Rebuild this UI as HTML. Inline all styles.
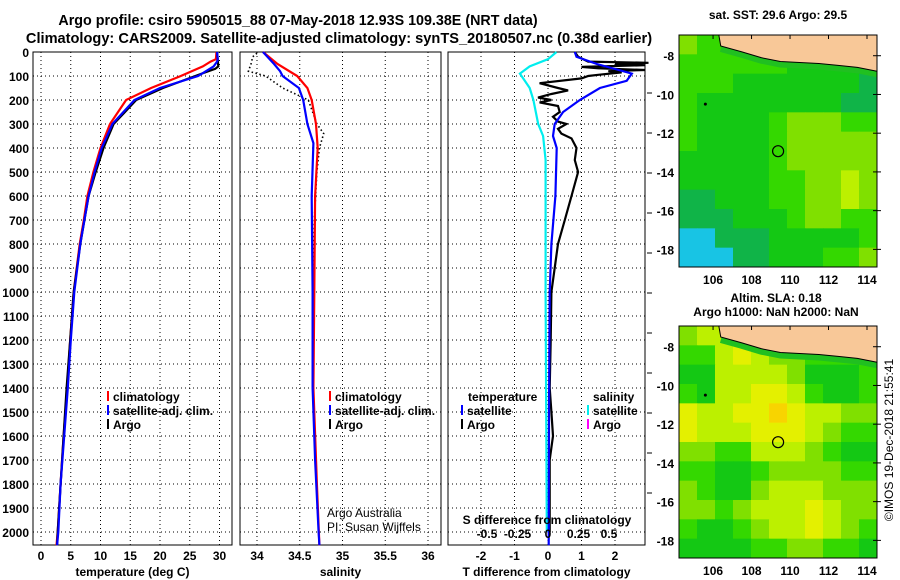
<!DOCTYPE html>
<html><head><meta charset="utf-8">
<style>
body{margin:0;background:#fff;}
svg{display:block;font-family:"Liberation Sans",Arial,sans-serif;font-weight:bold;}
</style></head>
<body>
<svg id="c" width="900" height="580" viewBox="0 0 900 580" xmlns="http://www.w3.org/2000/svg">
<text x="298" y="25" font-size="14.3" text-anchor="middle">Argo profile: csiro 5905015_88 07-May-2018 12.93S 109.38E (NRT data)</text>
<text x="339" y="43" font-size="14.6" text-anchor="middle">Climatology: CARS2009. Satellite-adjusted climatology: synTS_20180507.nc (0.38d earlier)</text>
<text x="778" y="19" font-size="12" text-anchor="middle">sat. SST: 29.6 Argo: 29.5</text>
<text x="776" y="302" font-size="12" text-anchor="middle">Altim. SLA: 0.18</text>
<text x="776" y="316" font-size="12" text-anchor="middle">Argo h1000: NaN h2000: NaN</text>
<text transform="translate(893,440) rotate(-90)" font-size="12" font-weight="normal" text-anchor="middle">©IMOS 19-Dec-2018 21:55:41</text>
</svg>
<script>
// ---- data ----
const depthTicks=[0,100,200,300,400,500,600,700,800,900,1000,1100,1200,1300,1400,1500,1600,1700,1800,1900,2000];
const tempTicks=[0,5,10,15,20,25,30];
const salTicks=[34,34.5,35,35.5,36];
const tdiffTicks=[-2,-1,0,1,2];
const sdiffTicks=[-0.5,-0.25,0,0.25,0.5];
const climTDepth=[0,30,40,60,100,150,200,300,400,500,600,700,800,900,1000,1200,1400,1600,1800,2000,2055];
const climT=[29.5,29.4,28.5,27.2,23.5,18.5,14.3,11.6,10,8.8,7.8,7.2,6.5,6,5.5,4.9,4.4,3.8,3.3,2.8,2.6];
const satT=[29.6,29.7,29.6,29.0,26.4,20,15.7,12,10.2,9,8,7.3,6.6,6.1,5.6,5,4.5,3.9,3.3,2.9,2.7];
const argoTDepth=[0,60,70,90,150,200,300,400,500,600,700,800,1000,1200,1400,1600,1800,2000,2055];
const argoT=[29.6,29.8,29.3,27,20.5,16,12.2,10.5,9.2,8,7.3,6.6,5.5,4.9,4.3,3.8,3.3,2.8,2.7];
const climSDepth=[0,50,100,150,200,300,400,600,1000,1400,1800,2055];
const climS=[34.07,34.24,34.47,34.59,34.64,34.69,34.71,34.68,34.67,34.66,34.70,34.73];
const satSDepth=[0,50,80,100,150,200,300,380,600,1000,1400,1700,2000,2055];
const satS=[34.07,34.20,34.27,34.30,34.49,34.54,34.59,34.66,34.64,34.65,34.65,34.68,34.72,34.73];
const argoSDepth=[5,20,50,80,100,150,200,300,340,400,500,700,1000,1500,2000];
const argoS=[34.0,33.95,33.93,33.9,34.1,34.3,34.6,34.7,34.78,34.73,34.7,34.67,34.65,34.66,34.72];
const satTdDepth=[0,20,50,90,120,150,200,250,300,350,400,600,800,1000,1500,2055];
const satTd=[0.8,0.85,1.46,2.5,2.35,1.55,0.95,0.45,0.2,0.15,0.26,0.22,0.1,0.05,0.03,0.02];
const argoTdDepth=[0,20,40,45,50,55,62,68,75,80,85,95,100,110,130,150,160,175,190,200,210,225,250,270,290,300,320,340,360,400,450,500,550,600,700,800,900,1000,1200,1400,1500,1600,1700,1800,2000];
const argoTd=[0.8,0.9,1.2,3.0,2.0,2.9,1.0,1.5,2.9,1.8,2.2,1.5,1.2,1.0,-0.25,0.3,0.6,0.1,-0.3,0.1,-0.25,0.3,0.35,0.15,0.3,0.55,0.3,0.4,0.7,0.85,0.8,0.9,0.8,0.7,0.5,0.3,0.2,0.1,0.08,0.05,0.1,0.15,0.05,0.05,0.05];
const satSdDepth=[0,30,60,90,120,150,200,300,350,450,1000,2000];
const satSd=[0.07,0.0,-0.15,-0.23,-0.19,-0.15,-0.12,-0.08,-0.04,-0.02,-0.02,-0.01];
const latTicks=[-8,-10,-12,-14,-16,-18];
const lonTicks=[106,108,110,112,114];
const sstGrid=[
[4,3,3,3,3,3,3,3,3,3,3],[3,3,3,3,3,3,2,2,2,2,2],[3,3,3,2,2,2,2,2,2,2,1],[3,2,2,2,2,2,2,2,2,1,1],
[3,2,2,2,2,3,4,4,4,3,3],[3,2,2,2,2,3,4,4,4,4,4],[2,2,2,2,2,3,4,4,4,4,4],[2,2,2,2,2,3,3,4,4,5,4],
[1,1,2,2,2,3,3,4,4,5,4],[1,1,1,2,2,2,3,4,4,3,3],[0,0,1,1,1,2,2,2,2,2,3],[0,0,0,1,1,2,2,2,3,3,4]];
const slaGrid=[
[4,5,5,6,5,4,4,4,4,4,4],[3,3,5,6,5,4,4,3,3,3,3],[2,2,5,5,5,5,4,2,2,2,3],[3,2,5,5,6,6,5,3,2,2,3],
[6,5,5,6,6,7,6,5,5,4,4],[6,5,5,5,6,6,6,5,4,3,3],[4,4,3,3,5,5,5,4,3,2,2],[3,3,2,2,3,4,4,4,4,3,3],
[4,3,2,2,4,5,5,5,4,4,4],[4,4,3,4,5,5,5,6,5,4,4],[3,2,2,3,4,5,5,6,5,4,3],[2,2,2,2,3,3,4,4,3,3,2]];
const coastLon=[106.3,106.4,107.5,108.5,109.5,110.5,111.5,112.5,113.5,114.52,114.52];
const coastLat=[-6.93,-7.5,-7.8,-8.1,-8.3,-8.35,-8.4,-8.5,-8.6,-8.8,-6.93];
const argoLon=109.38, argoLat=-12.93;

const NS="http://www.w3.org/2000/svg";
const svg=document.getElementById('c');
function mk(t,a,txt){const e=document.createElementNS(NS,t);for(const k in a)e.setAttribute(k,a[k]);if(txt!==undefined)e.textContent=txt;svg.appendChild(e);return e;}
const Y0=52,YB=545,yD=d=>Y0+d*0.24;

const panels=[
 {x0:33,x1:232,f:v=>41+(v-0)*5.95,ticks:tempTicks,title:'temperature (deg C)',name:'temperature-panel'},
 {x0:240,x1:441,f:v=>257+(v-34)*85.5,ticks:salTicks,title:'salinity',name:'salinity-panel'},
 {x0:448,x1:645,f:v=>548+v*33.5,ticks:tdiffTicks,title:'T difference from climatology',name:'difference-panel'}
];
panels.forEach((p,i)=>{
  const r=mk('rect',{x:p.x0,y:Y0,width:p.x1-p.x0,height:YB-Y0,fill:'#fff',stroke:'#000','stroke-width':1});
  
  
  p.ticks.forEach(t=>{
    const x=p.f(t);
    const g=mk('line',{x1:x,y1:Y0,x2:x,y2:YB,stroke:'#000','stroke-dasharray':'1,3'});
    
    
    const l=mk('text',{x:x,y:560,'font-size':12,'text-anchor':'middle'},String(t));
    
    
  });
  depthTicks.forEach(d=>{
    const y=yD(d);
    if(d>0){const g=mk('line',{x1:p.x0,y1:y,x2:p.x1,y2:y,stroke:'#000','stroke-dasharray':'1,3'});
    
    }
  });
  const t=mk('text',{x:(p.x0+p.x1)/2,y:576,'font-size':12,'text-anchor':'middle'},p.title);
  
  
});
depthTicks.forEach(d=>{
  const l=mk('text',{x:29,y:yD(d)+5,'font-size':12,'text-anchor':'end'},String(d));
  
  
});
for(let k=0;k<11;k++){const y=93+k*40;const m=mk('line',{x1:647,y1:y,x2:652,y2:y,stroke:'#000'});
  
  }

function line(depths,vals,f,color,name,dash){
  const pts=depths.map((d,i)=>f(vals[i]).toFixed(1)+','+yD(d).toFixed(1)).join(' ');
  const a={points:pts,fill:'none',stroke:color,'stroke-width':dash?1.6:2.2};
  if(dash)a['stroke-dasharray']=dash;
  const e=mk('polyline',a);
  
  
}
const fT=panels[0].f,fS=panels[1].f,fTd=panels[2].f,fSd=v=>548+v*122;
line(climTDepth,climT,fT,'#f00','temp-climatology-line');
line(argoTDepth,argoT,fT,'#000','temp-argo-line');
line(climTDepth,satT,fT,'#00f','temp-satellite-line');
line(argoSDepth,argoS,fS,'#000','salinity-argo-line','1.5,2.5');
line(climSDepth,climS,fS,'#f00','salinity-climatology-line');
line(satSDepth,satS,fS,'#00f','salinity-satellite-line');
line(satSdDepth,satSd,fSd,'#0ee','sdiff-satellite-line');
line(argoTdDepth,argoTd,fTd,'#000','tdiff-argo-line');
line(satTdDepth,satTd,fTd,'#00f','tdiff-satellite-line');

sdiffTicks.forEach(t=>{
  const l=mk('text',{x:fSd(t),y:538,'font-size':12,'text-anchor':'middle'},String(t));
  
  
});
const st=mk('text',{x:547,y:524,'font-size':12,'text-anchor':'middle'},'S difference from climatology');



function legend(x,y,color,label,name){
  const m=mk('line',{x1:x,y1:y-10,x2:x,y2:y,stroke:color,'stroke-width':2});
  
  
  const t=mk('text',{x:x+5,y:y,'font-size':12},label);
  
  
}
legend(108,401,'#f00','climatology','legend-temp-climatology');
legend(108,415,'#00f','satellite-adj. clim.','legend-temp-satellite');
legend(108,429,'#000','Argo','legend-temp-argo');
legend(330,401,'#f00','climatology','legend-sal-climatology');
legend(330,415,'#00f','satellite-adj. clim.','legend-sal-satellite');
legend(330,429,'#000','Argo','legend-sal-argo');
const lt=mk('text',{x:468,y:401,'font-size':12},'temperature');


legend(462,415,'#00f','satellite','legend-tdiff-satellite');
legend(462,429,'#000','Argo','legend-tdiff-argo');
const ls=mk('text',{x:593,y:401,'font-size':12},'salinity');


legend(588,415,'#0ee','satellite','legend-sdiff-satellite');
legend(588,429,'#f0f','Argo','legend-sdiff-argo');
const a1=mk('text',{x:327,y:517,'font-size':12,'font-weight':'normal'},'Argo Australia');


const a2=mk('text',{x:327,y:531,'font-size':12,'font-weight':'normal'},'PI: Susan Wijffels');



// ---- maps ----
const palette=['#18c4e4','#10b448','#14c814','#34d800','#80e000','#bcf000','#e4f000','#f8d400'];
const MX0=679,MX1=877,LON0=104.23,LON1=114.52,LAT0=-6.93,LAT1=-18.91;
function drawMap(top,bot,grid,name){
  const lx=v=>MX0+(v-LON0)/(LON1-LON0)*(MX1-MX0);
  const ly=v=>top+(LAT0-v)/(LAT0-LAT1)*(bot-top);
  const rows=grid.length,cols=grid[0].length;
  const cw=(MX1-MX0)/cols,ch=(bot-top)/rows;
  grid.forEach((row,r)=>row.forEach((v,c)=>{
    const e=mk('rect',{x:MX0+c*cw,y:top+r*ch,width:cw+0.5,height:ch+0.5,fill:palette[v]});
    
    
  }));
  const strip=mk('polyline',{points:coastLon.slice(1,10).map((v,i)=>lx(v)+','+(ly(coastLat[i+1])+3)).join(' '),fill:'none',stroke:'#20c020','stroke-width':6});
  
  
  const land=mk('polygon',{points:coastLon.map((v,i)=>lx(v)+','+ly(coastLat[i])).join(' '),fill:'#f8c898',stroke:'#000','stroke-width':1});
  
  
  const fr=mk('rect',{x:MX0,y:top,width:MX1-MX0,height:bot-top,fill:'none',stroke:'#000'});
  
  
  const dot=mk('circle',{cx:lx(105.6),cy:ly(-10.5),r:1.5,fill:'#000'});
  
  
  const c=mk('circle',{cx:lx(argoLon),cy:ly(argoLat),r:5.5,fill:'none',stroke:'#000','stroke-width':1.2});
  
  
  latTicks.forEach(v=>{
    const y=ly(v);
    const t=mk('text',{x:674,y:y+5,'font-size':12,'text-anchor':'end'},String(v));
    
    
    const k=mk('line',{x1:MX1-4,y1:y,x2:MX1+4,y2:y,stroke:'#000'});
    
    
  });
  lonTicks.forEach(v=>{
    const x=lx(v);
    const t=mk('text',{x:x,y:bot+17,'font-size':12,'text-anchor':'middle'},String(v));
    
    
    const k=mk('line',{x1:x,y1:top,x2:x,y2:top+4,stroke:'#000'});
    
    
  });
}
drawMap(35,267,sstGrid,'sst-map');
drawMap(326,558,slaGrid,'sla-map');
</script>
</body></html>
